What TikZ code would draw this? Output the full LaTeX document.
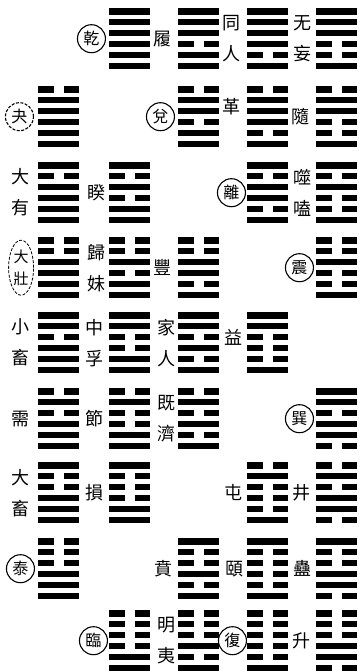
\documentclass[tikz,border=0pt]{standalone}
\usepackage{fontspec}
\newfontfamily\cjk{Noto Sans CJK TC}
\usetikzlibrary{positioning,shapes.geometric}

% one hexagram: name, top-left corner, lines from the top (1 solid, 0 broken)
\newcommand{\hexagram}[3]{%
  \node[hexbox] (#1) at (#2) {};
  \foreach \b [count=\i from 0] in {#3} {
    \ifnum\b=1
      \fill ([yshift=-\i*10.9pt]#1.north west) rectangle ++(41pt,-6.5pt);
    \else
      \fill ([yshift=-\i*10.9pt]#1.north west) rectangle ++(15.5pt,-6.5pt);
      \fill ([yshift=-\i*10.9pt]#1.north east) rectangle ++(-15.5pt,-6.5pt);
    \fi
  }
}

\begin{document}
\begin{tikzpicture}[
    x=1pt, y=-1pt,
    hexbox/.style={anchor=north west, minimum width=41pt, minimum height=61pt, inner sep=0pt},
    glabel/.style={font=\cjk\fontsize{18}{31}\selectfont, align=center, inner sep=0pt},
    gcircle/.style={circle, draw, line width=1.1pt, font=\cjk\fontsize{16}{16}\selectfont, inner sep=0.5pt, minimum size=28pt},
    goval/.style={ellipse, draw, line width=0.8pt, font=\cjk\fontsize{15}{22}\selectfont, align=center, inner sep=0pt, minimum width=25pt, minimum height=55pt},
    faint/.style={dash pattern=on 3pt off 1.5pt},
]
\useasboundingbox (0,0) rectangle (359,672);

% Row 1
\hexagram{qian}{109,8}{1,1,1,1,1,1}
\hexagram{lv}{178,8}{1,1,1,0,1,1}
\hexagram{tongren}{247,8}{1,1,1,1,0,1}
\hexagram{wuwang}{316,8}{1,1,1,0,0,1}
\node[gcircle, left=3pt of qian] (qian-l) {乾};
\node[glabel, left=6pt of lv] (lv-l) {履};
\node[glabel, left=6pt of tongren] (tongren-l) {同\\人};
\node[glabel, left=4pt of wuwang] (wuwang-l) {无\\妄};

% Row 2
\hexagram{guai}{38,86}{0,1,1,1,1,1}
\hexagram{dui}{178,86}{0,1,1,0,1,1}
\hexagram{ge}{247,86}{0,1,1,1,0,1}
\hexagram{sui}{316,86}{0,1,1,0,0,1}
\node[gcircle, faint, left=4pt of guai] (guai-l) {夬};
\node[gcircle, left=3pt of dui] (dui-l) {兌};
\node[glabel, left=6pt of ge, yshift=10pt] (ge-l) {革};
\node[glabel, left=6pt of sui] (sui-l) {隨};

% Row 3
\hexagram{dayou}{38,162}{1,0,1,1,1,1}
\hexagram{kui}{109,162}{1,0,1,0,1,1}
\hexagram{li}{247,162}{1,0,1,1,0,1}
\hexagram{shihe}{316,162}{1,0,1,0,0,1}
\node[glabel, left=8pt of dayou] (dayou-l) {大\\有};
\node[glabel, left=3pt of kui] (kui-l) {睽};
\node[gcircle, left=1pt of li] (li-l) {離};
\node[glabel, left=4pt of shihe] (shihe-l) {噬\\嗑};

% Row 4
\hexagram{dazhuang}{38,237}{0,0,1,1,1,1}
\hexagram{guimei}{109,237}{0,0,1,0,1,1}
\hexagram{feng}{178,237}{0,0,1,1,0,1}
\hexagram{zhen}{316,237}{0,0,1,0,0,1}
\node[goval, faint, left=4pt of dazhuang] (dazhuang-l) {大\\壯};
\node[glabel, left=3pt of guimei] (guimei-l) {歸\\妹};
\node[glabel, left=6pt of feng] (feng-l) {豐};
\node[gcircle, left=2pt of zhen] (zhen-l) {震};

% Row 5
\hexagram{xiaoxu}{38,312}{1,1,0,1,1,1}
\hexagram{zhongfu}{109,312}{1,1,0,0,1,1}
\hexagram{jiaren}{178,312}{1,1,0,1,0,1}
\hexagram{yi}{247,312}{1,1,0,0,0,1}
\node[glabel, left=8pt of xiaoxu] (xiaoxu-l) {小\\畜};
\node[glabel, left=5pt of zhongfu] (zhongfu-l) {中\\孚};
\node[glabel, left=2pt of jiaren] (jiaren-l) {家\\人};
\node[glabel, left=4pt of yi, yshift=5pt] (yi-l) {益};

% Row 6
\hexagram{xu}{38,388}{0,1,0,1,1,1}
\hexagram{jie}{109,388}{0,1,0,0,1,1}
\hexagram{jiji}{178,388}{0,1,0,1,0,1}
\hexagram{xun}{316,388}{1,1,0,1,1,0}
\node[glabel, left=8pt of xu] (xu-l) {需};
\node[glabel, left=5pt of jie] (jie-l) {節};
\node[glabel, left=2pt of jiji] (jiji-l) {既\\濟};
\node[gcircle, left=2pt of xun] (xun-l) {巽};

% Row 7
\hexagram{daxu}{38,462}{1,0,0,1,1,1}
\hexagram{sun}{109,462}{1,0,0,0,1,1}
\hexagram{zhun}{247,462}{0,1,0,0,0,1}
\hexagram{jing}{316,462}{0,1,0,1,1,0}
\node[glabel, left=8pt of daxu] (daxu-l) {大\\畜};
\node[glabel, left=5pt of sun] (sun-l) {損};
\node[glabel, left=4pt of zhun] (zhun-l) {屯};
\node[glabel, left=5pt of jing] (jing-l) {井};

% Row 8
\hexagram{tai}{38,538}{0,0,0,1,1,1}
\hexagram{bi}{178,538}{1,0,0,1,0,1}
\hexagram{yiyi}{247,538}{1,0,0,0,0,1}
\hexagram{gu}{316,538}{1,0,0,1,1,0}
\node[gcircle, left=3pt of tai] (tai-l) {泰};
\node[glabel, left=5pt of bi] (bi-l) {賁};
\node[glabel, left=3pt of yiyi] (yiyi-l) {頤};
\node[glabel, left=4pt of gu] (gu-l) {蠱};

% Row 9
\hexagram{lin}{109,610}{0,0,0,0,1,1}
\hexagram{mingyi}{178,610}{0,0,0,1,0,1}
\hexagram{fu}{247,610}{0,0,0,0,0,1}
\hexagram{sheng}{316,610}{0,0,0,1,1,0}
\node[gcircle, left=1pt of lin] (lin-l) {臨};
\node[glabel, left=2pt of mingyi] (mingyi-l) {明\\夷};
\node[gcircle, left=0pt of fu] (fu-l) {復};
\node[glabel, left=5pt of sheng] (sheng-l) {升};
\end{tikzpicture}
\end{document}
